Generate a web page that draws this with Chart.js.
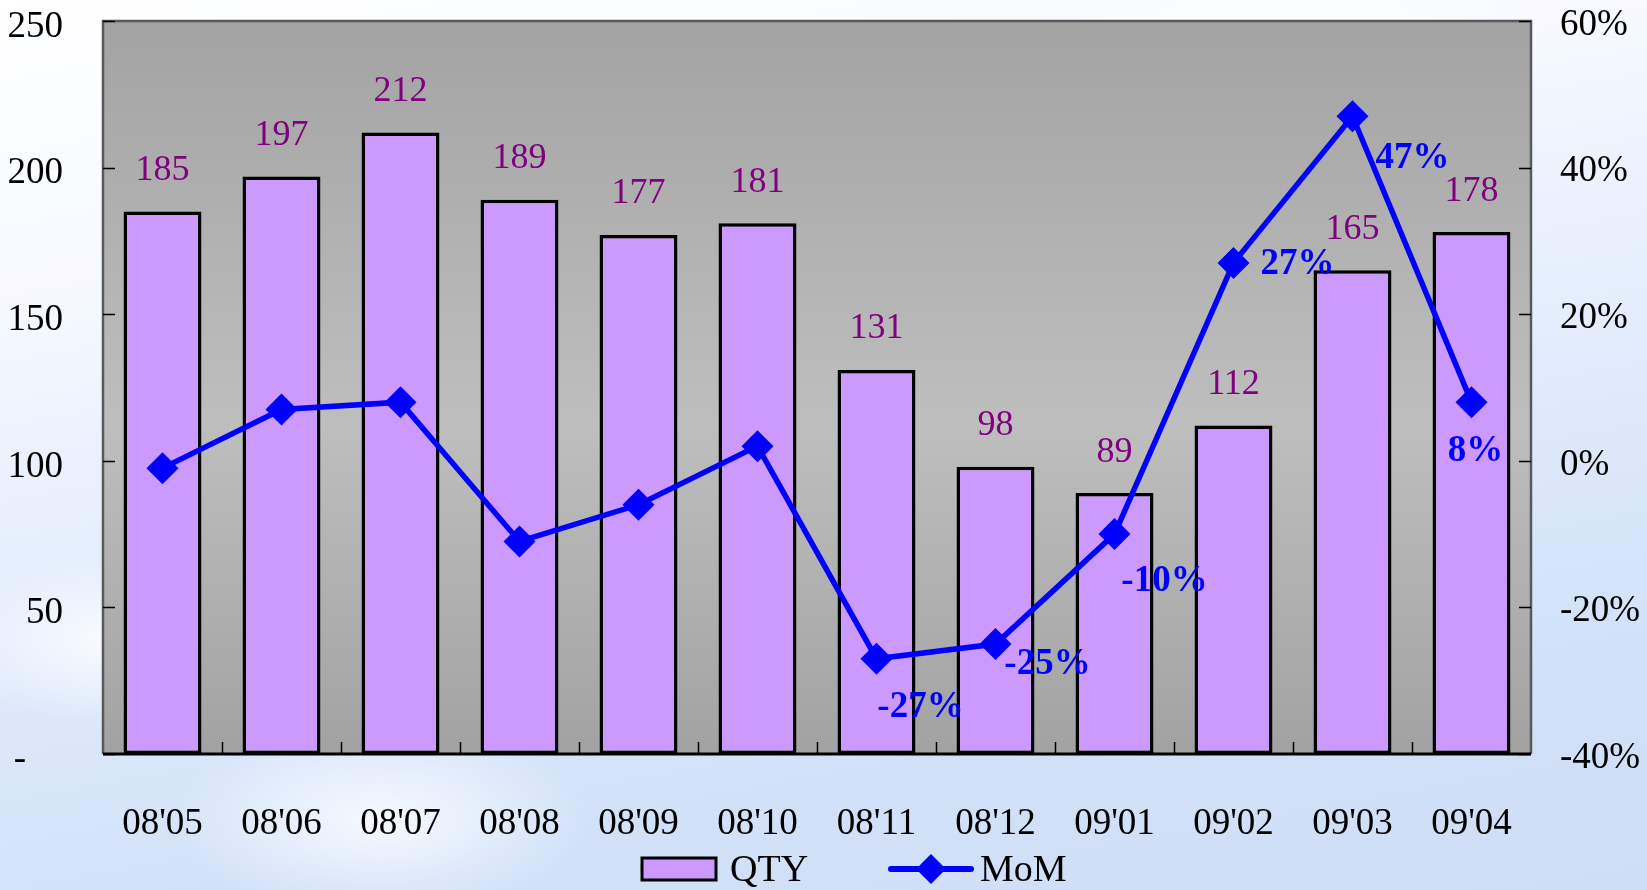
<!DOCTYPE html>
<html>
<head>
<meta charset="utf-8">
<script src="https://cdn.jsdelivr.net/npm/chart.js@4/dist/chart.umd.min.js"></script>
<style>
  html, body { margin: 0; padding: 0; }
  body {
    width: 1647px; height: 890px; overflow: hidden;
    background:
      radial-gradient(ellipse 260px 120px at 120px 640px, rgba(255,255,255,0.85), rgba(255,255,255,0) 70%),
      radial-gradient(ellipse 300px 140px at 380px 820px, rgba(255,255,255,0.8), rgba(255,255,255,0) 70%),
      radial-gradient(ellipse 380px 90px at 1300px 30px, rgba(255,255,255,0.9), rgba(255,255,255,0) 70%),
      linear-gradient(170deg, #ffffff 0%, #f6f9ff 25%, #e0ebfb 55%, #d0e1f8 80%, #cddef7 100%);
  }
  #wrap { position: absolute; left: 0; top: 0; width: 1647px; height: 890px; }
</style>
</head>
<body>
<div id="wrap"><canvas id="chart" width="1647" height="890"></canvas></div>
<script>
// data
const months = ["08'05", "08'06", "08'07", "08'08", "08'09", "08'10", "08'11", "08'12", "09'01", "09'02", "09'03", "09'04"];
const qty = [185, 197, 212, 189, 177, 181, 131, 98, 89, 112, 165, 178];
const mom = [-1, 7, 8, -11, -6, 2, -27, -25, -10, 27, 47, 8];
const qtyTicks = [0, 50, 100, 150, 200, 250];
const momTicks = [-40, -20, 0, 20, 40, 60];

const serif = "'Liberation Serif', 'Times New Roman', serif";

// where the MoM labels sit relative to their point (only the last six are labelled)
const momLabelOffsets = {
  6: [44, 49], 7: [52, 20], 8: [50, 47], 9: [64, 2], 10: [60, 42], 11: [4, 49]
};

const plotDecor = {
  id: 'plotDecor',
  beforeDraw(chart) {
    const { ctx, chartArea: a } = chart;
    const g = ctx.createLinearGradient(0, a.top, 0, a.bottom);
    g.addColorStop(0, '#a3a3a3');
    g.addColorStop(0.55, '#bebebe');
    g.addColorStop(1, '#a2a2a2');
    ctx.save();
    ctx.fillStyle = g;
    ctx.fillRect(a.left, a.top, a.right - a.left, a.bottom - a.top);
    ctx.restore();
  },
  afterDatasetsDraw(chart) {
    const { ctx, chartArea: a, scales } = chart;
    ctx.save();
    // frame
    ctx.strokeStyle = '#595959';
    ctx.lineWidth = 2.5;
    ctx.beginPath();
    ctx.moveTo(a.left, a.bottom);
    ctx.lineTo(a.left, a.top);
    ctx.lineTo(a.right, a.top);
    ctx.lineTo(a.right, a.bottom);
    ctx.stroke();
    ctx.strokeStyle = '#000';
    ctx.lineWidth = 3;
    ctx.beginPath();
    ctx.moveTo(a.left, a.bottom);
    ctx.lineTo(a.right, a.bottom);
    ctx.stroke();

    // inside tick marks
    ctx.lineWidth = 1.5;
    ctx.beginPath();
    qtyTicks.forEach(v => {
      const y = Math.round(scales.y.getPixelForValue(v)) + 0.5;
      ctx.moveTo(a.left, y); ctx.lineTo(a.left + 12, y);
    });
    momTicks.forEach(v => {
      const y = Math.round(scales.y1.getPixelForValue(v)) + 0.5;
      ctx.moveTo(a.right - 12, y); ctx.lineTo(a.right, y);
    });
    const step = (a.right - a.left) / months.length;
    for (let i = 1; i < months.length; i++) {
      const x = Math.round(a.left + step * i) + 0.5;
      ctx.moveTo(x, a.bottom - 12); ctx.lineTo(x, a.bottom);
    }
    ctx.stroke();

    // QTY value labels
    const barMeta = chart.getDatasetMeta(1);
    ctx.fillStyle = '#800080';
    ctx.font = '36px ' + serif;
    ctx.textAlign = 'center';
    ctx.textBaseline = 'middle';
    barMeta.data.forEach((bar, i) => {
      ctx.fillText(String(qty[i]), bar.x, bar.y - 41);
    });

    // MoM labels
    const lineMeta = chart.getDatasetMeta(0);
    ctx.fillStyle = '#0000ff';
    ctx.font = 'bold 37px ' + serif;
    lineMeta.data.forEach((pt, i) => {
      const off = momLabelOffsets[i];
      if (!off) return;
      ctx.fillText(mom[i] + '%', pt.x + off[0], pt.y + off[1]);
    });
    ctx.restore();
  },
  afterDraw(chart) {
    // legend
    const { ctx } = chart;
    ctx.save();
    ctx.fillStyle = '#cc99ff';
    ctx.strokeStyle = '#000';
    ctx.lineWidth = 3;
    ctx.fillRect(642, 858, 74, 22);
    ctx.strokeRect(642, 858, 74, 22);
    ctx.strokeStyle = '#0000ff';
    ctx.lineWidth = 6;
    ctx.lineCap = 'round';
    ctx.beginPath();
    ctx.moveTo(891, 869); ctx.lineTo(971, 869);
    ctx.stroke();
    ctx.fillStyle = '#0000ff';
    ctx.beginPath();
    ctx.moveTo(931, 854); ctx.lineTo(946, 869); ctx.lineTo(931, 884); ctx.lineTo(916, 869);
    ctx.closePath();
    ctx.fill();
    ctx.fillStyle = '#000';
    ctx.font = '38px ' + serif;
    ctx.textAlign = 'left';
    ctx.textBaseline = 'middle';
    ctx.fillText('QTY', 730, 871);
    ctx.fillText('MoM', 980, 871);
    ctx.restore();
  }
};

new Chart(document.getElementById('chart'), {
  data: {
    labels: months,
    datasets: [
      {
        type: 'line',
        label: 'MoM',
        data: mom,
        yAxisID: 'y1',
        order: 0,
        borderColor: '#0000ff',
        backgroundColor: '#0000ff',
        borderWidth: 5.5,
        tension: 0,
        pointStyle: 'rectRot',
        pointRadius: 16,
        pointBorderWidth: 0,
        clip: false
      },
      {
        type: 'bar',
        label: 'QTY',
        data: qty,
        yAxisID: 'y',
        order: 1,
        backgroundColor: '#cc99ff',
        borderColor: '#000000',
        borderWidth: 3.5,
        borderSkipped: false,
        categoryPercentage: 1,
        barPercentage: 0.655
      }
    ]
  },
  options: {
    responsive: false,
    animation: false,
    layout: { padding: { top: 21, left: 0, right: 0, bottom: 0 } },
    plugins: { legend: { display: false }, tooltip: { enabled: false } },
    scales: {
      x: {
        grid: { display: false, drawTicks: false },
        border: { display: false },
        ticks: {
          color: '#000',
          font: { family: serif, size: 37 },
          padding: 48,
          maxRotation: 0,
          autoSkip: false
        },
        afterFit(scale) { scale.height = 136; scale.paddingLeft = 0; scale.paddingRight = 0; }
      },
      y: {
        position: 'left',
        min: 0,
        max: 250,
        grid: { display: false, drawTicks: false },
        border: { display: false },
        ticks: {
          stepSize: 50,
          color: '#000',
          font: { family: serif, size: 37 },
          padding: 40,
          labelOffset: 6,
          callback: v => (v === 0 ? '-    ' : v)
        },
        afterFit(scale) { scale.width = 103; scale.paddingTop = 0; scale.paddingBottom = 0; }
      },
      y1: {
        position: 'right',
        min: -40,
        max: 60,
        grid: { display: false, drawTicks: false },
        border: { display: false },
        ticks: {
          stepSize: 20,
          color: '#000',
          font: { family: serif, size: 37 },
          padding: 29,
          labelOffset: 4,
          callback: v => v + '%'
        },
        afterFit(scale) { scale.width = 116; scale.paddingTop = 0; scale.paddingBottom = 0; }
      }
    }
  },
  plugins: [plotDecor]
});
</script>
</body>
</html>
